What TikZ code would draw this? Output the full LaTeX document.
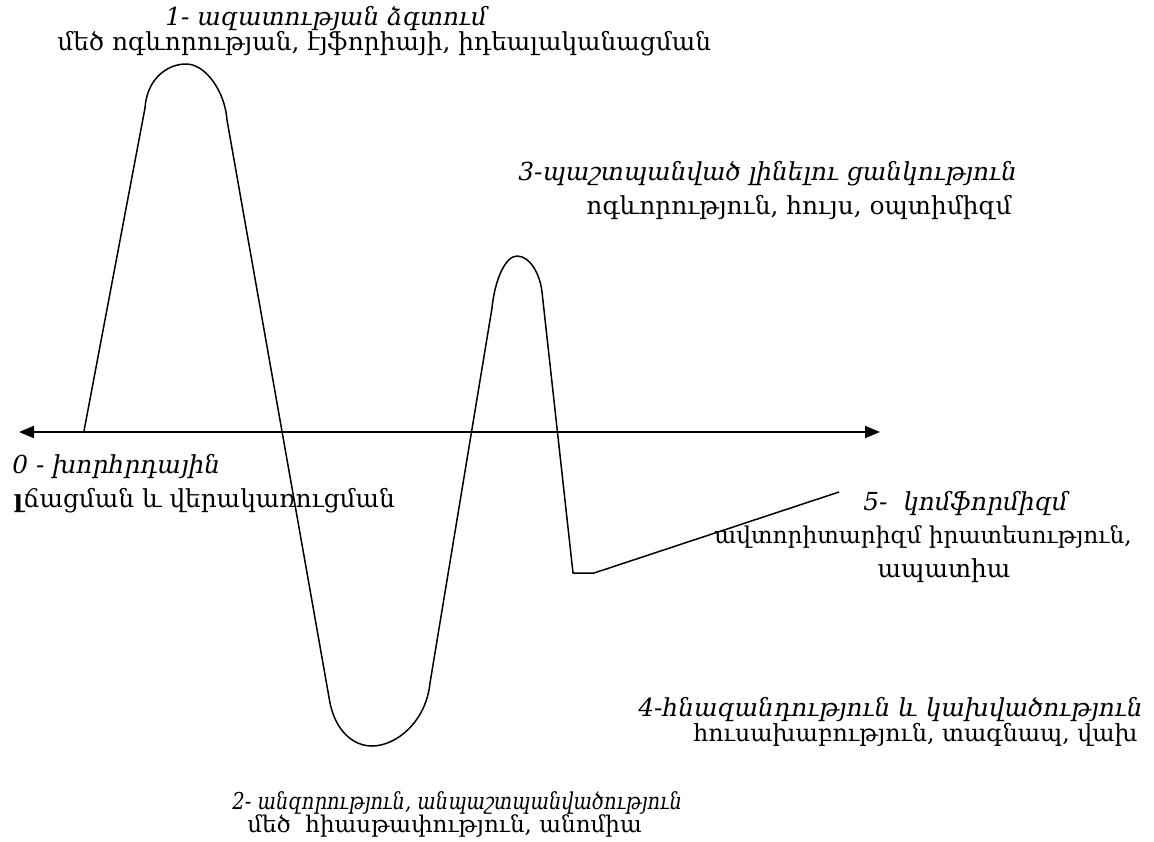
\documentclass[tikz,border=0pt]{standalone}
\usepackage{fontspec}
\setmainfont{DejaVu Serif}
\usetikzlibrary{arrows.meta}

\newcommand{\fsz}[1]{\fontsize{#1}{13pt}\selectfont}

\tikzset{
  lbl/.style={inner sep=0pt,anchor=west,font=\fsz{12.4pt}},
  stage/.style={lbl,font=\fsz{12.4pt}\itshape},
  axis/.style={line width=1pt,{Triangle[length=7.5pt,width=6pt]}-{Triangle[length=7.5pt,width=6pt]}},
  wave/.style={line width=0.75pt,line join=round}
}

\begin{document}
\begin{tikzpicture}[x=0.5pt,y=-0.5pt]
    \useasboundingbox (0,0) rectangle (1154,841);

    % time axis
    \coordinate (axL) at (19,432);
    \coordinate (axR) at (880,432);
    \draw[axis] (axL) -- (axR);

    % the curve of the stages
    \draw[wave] (84,431) -- (145,108)
        .. controls (147,78) and (168,64) .. (186,64)
        .. controls (206,64) and (225,92) .. (227,120)
        -- (330,703)
        .. controls (336,732) and (354,746) .. (372,746)
        .. controls (396,746) and (426,722) .. (430,683)
        -- (492,308)
        .. controls (495,278) and (506,256) .. (517,256)
        .. controls (530,256) and (540,274) .. (542,292)
        -- (573,573) -- (594,573) -- (839,492);

    % stage 1
    \node[stage] (s1) at (165,18) {1- ազատության ձգտում};
    \node[lbl] (s1b) at (57,44) {մեծ ոգևորության, էյֆորիայի, իդեալականացման};

    % stage 3
    \node[stage] (s3) at (518,174) {3-պաշտպանված լինելու ցանկություն};
    \node[lbl] (s3b) at (586,207) {ոգևորություն, հույս, օպտիմիզմ};

    % stage 0
    \node[stage] (s0) at (12,466) {0 - խորհրդային};
    \node[lbl] (s0b) at (13,501) {{\bfseries լ}ճացման և վերակառուցման};

    % stage 5
    \node[stage] (s5) at (863,503) {5-\ \ կոմֆորմիզմ};
    \node[lbl,font=\fsz{11.6pt}] (s5b) at (714,537) {ավտորիտարիզմ իրատեսություն,};
    \node[lbl,anchor=center] (s5c) at (944,571) {ապատիա};

    % stage 4
    \node[stage] (s4) at (638,709) {4-հնազանդություն և կախվածություն};
    \node[lbl,font=\fsz{11.8pt}] (s4b) at (693,735) {հուսախաբություն, տագնապ, վախ};

    % stage 2
    \node[stage,font=\fsz{11.6pt}\itshape\addfontfeatures{FakeStretch=0.84}] (s2) at (232,803) {2- անզորություն, անպաշտպանվածություն};
    \node[lbl,font=\fsz{11.5pt}] (s2b) at (247,826) {մեծ\ \ հիասթափություն, անոմիա};
\end{tikzpicture}
\end{document}
